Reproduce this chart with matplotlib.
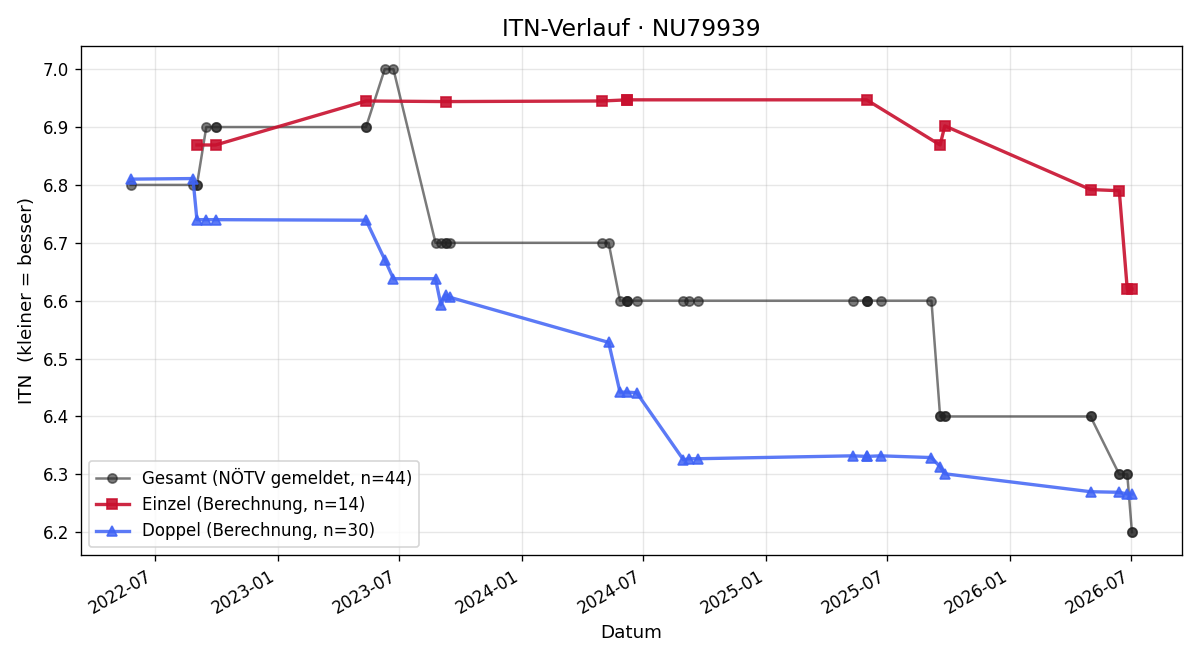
import matplotlib
matplotlib.use("Agg")
import matplotlib.pyplot as plt
import pandas as pd

# Gesamt (NÖTV gemeldet)
ges_dates = ["2022-05-26", "2022-08-27", "2022-09-02", "2022-09-02", "2022-09-16",
             "2022-09-30", "2022-09-30", "2023-05-13", "2023-05-13", "2023-06-10",
             "2023-06-23", "2023-08-25", "2023-09-02", "2023-09-09", "2023-09-09",
             "2023-09-15", "2024-04-30", "2024-05-10", "2024-05-27", "2024-06-07",
             "2024-06-07", "2024-06-07", "2024-06-21", "2024-08-30", "2024-09-07",
             "2024-09-21", "2025-05-10", "2025-05-31", "2025-05-31", "2025-05-31",
             "2025-06-21", "2025-09-05", "2025-09-18", "2025-09-18", "2025-09-25",
             "2025-09-25", "2026-05-01", "2026-05-01", "2026-06-13", "2026-06-13",
             "2026-06-25", "2026-06-25", "2026-07-02", "2026-07-02"]
ges_itn = [6.8, 6.8, 6.8, 6.8, 6.9,
           6.9, 6.9, 6.9, 6.9, 7.0,
           7.0, 6.7, 6.7, 6.7, 6.7,
           6.7, 6.7, 6.7, 6.6, 6.6,
           6.6, 6.6, 6.6, 6.6, 6.6,
           6.6, 6.6, 6.6, 6.6, 6.6,
           6.6, 6.6, 6.4, 6.4, 6.4,
           6.4, 6.4, 6.4, 6.3, 6.3,
           6.3, 6.3, 6.2, 6.2]

# Einzel (Berechnung)
ein_dates = ["2022-09-02", "2022-09-30", "2023-05-13", "2023-09-09", "2024-04-30",
             "2024-06-07", "2024-06-07", "2025-05-31", "2025-09-18", "2025-09-25",
             "2026-05-01", "2026-06-13", "2026-06-25", "2026-07-02"]
ein_itn = [6.869, 6.869, 6.945, 6.944, 6.945,
           6.947, 6.947, 6.947, 6.869, 6.902,
           6.792, 6.790, 6.620, 6.620]

# Doppel (Berechnung)
dop_dates = ["2022-05-26", "2022-08-27", "2022-09-02", "2022-09-16", "2022-09-30",
             "2023-05-13", "2023-06-10", "2023-06-23", "2023-08-25", "2023-09-02",
             "2023-09-09", "2023-09-15", "2024-05-10", "2024-05-27", "2024-06-07",
             "2024-06-21", "2024-08-30", "2024-09-07", "2024-09-21", "2025-05-10",
             "2025-05-31", "2025-05-31", "2025-06-21", "2025-09-05", "2025-09-18",
             "2025-09-25", "2026-05-01", "2026-06-13", "2026-06-25", "2026-07-02"]
dop_itn = [6.81, 6.811, 6.74, 6.74, 6.74,
           6.739, 6.671, 6.638, 6.638, 6.593,
           6.61, 6.606, 6.528, 6.442, 6.442,
           6.441, 6.325, 6.327, 6.327, 6.332,
           6.331, 6.331, 6.332, 6.329, 6.313,
           6.301, 6.27, 6.269, 6.266, 6.266]

fig, ax = plt.subplots(figsize=(10, 5.5), dpi=120)
ax.plot(pd.to_datetime(ges_dates), ges_itn, marker="o", color="#222222", alpha=0.6,
        linewidth=1.5, markersize=5.5, label="Gesamt (NÖTV gemeldet, n=44)")
ax.plot(pd.to_datetime(ein_dates), ein_itn, marker="s", color="#c8102e", alpha=0.9,
        linewidth=2, markersize=6.5, label="Einzel (Berechnung, n=14)")
ax.plot(pd.to_datetime(dop_dates), dop_itn, marker="^", color="#3f63f5", alpha=0.85,
        linewidth=2, markersize=6.5, label="Doppel (Berechnung, n=30)")

ax.set_title("ITN-Verlauf · NU79939", fontsize=14)
ax.set_xlabel("Datum", fontsize=11)
ax.set_ylabel("ITN  (kleiner = besser)", fontsize=11)
ax.grid(True, alpha=0.3)
ax.legend(loc="lower left", fontsize=10)
fig.autofmt_xdate()
plt.tight_layout()
plt.savefig("out.png")
